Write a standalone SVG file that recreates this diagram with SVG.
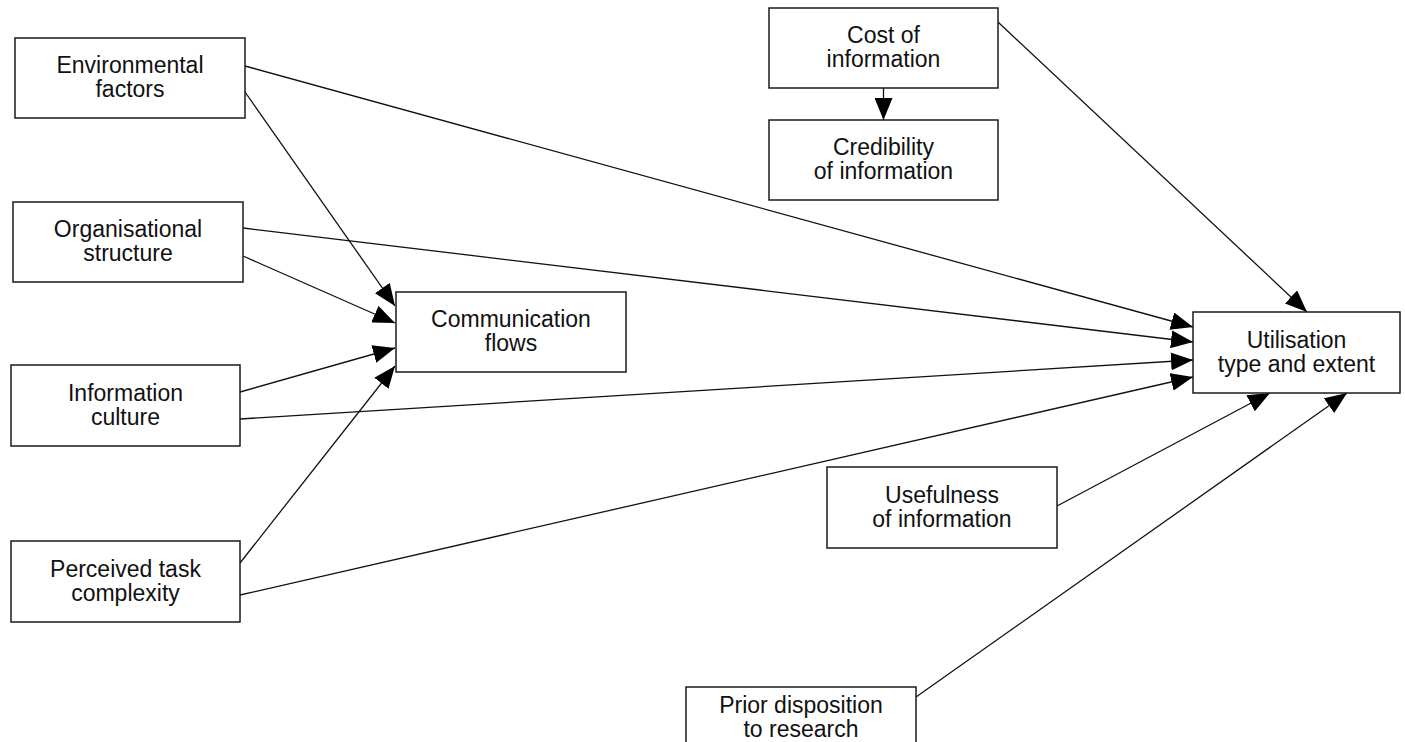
<svg xmlns="http://www.w3.org/2000/svg" width="1405" height="742" viewBox="0 0 1405 742">
  <style>
    .box { fill: #ffffff; stroke: #1a1a1a; stroke-width: 1.5; }
    .lbl { font-family: "Liberation Sans", Arial, sans-serif; font-size: 23px; fill: #111111; text-anchor: middle; }
    .edge { fill: none; stroke: #111111; stroke-width: 1.3; marker-end: url(#head); }
  </style>
  <defs>
    <marker id="head" viewBox="0 0 22 18" refX="22" refY="9" markerWidth="22" markerHeight="18" markerUnits="userSpaceOnUse" orient="auto">
      <path d="M0,0 L22,9 L0,18 Z" fill="#000000"/>
    </marker>
  </defs>
  <rect x="0" y="0" width="1405" height="742" fill="#ffffff"/>

  <!-- connectors -->
  <g id="connectors">
    <line class="edge" x1="245" y1="66" x2="1193" y2="327"/>
    <line class="edge" x1="245" y1="92" x2="395" y2="306"/>
    <line class="edge" x1="243" y1="228" x2="1193" y2="342"/>
    <line class="edge" x1="243" y1="256" x2="395" y2="323"/>
    <line class="edge" x1="240" y1="392" x2="395" y2="348"/>
    <line class="edge" x1="240" y1="419" x2="1193" y2="360"/>
    <line class="edge" x1="240" y1="563" x2="395" y2="366"/>
    <line class="edge" x1="240" y1="595" x2="1193" y2="377"/>
    <line class="edge" x1="998" y1="22" x2="1307" y2="312"/>
    <line class="edge" x1="883.5" y1="88" x2="883.5" y2="120"/>
    <line class="edge" x1="1057" y1="506" x2="1270" y2="393"/>
    <line class="edge" x1="916" y1="697" x2="1347" y2="393"/>
  </g>

  <g id="environmental-factors">
    <rect class="box" x="15" y="38" width="230" height="80"/>
    <text class="lbl" x="130" y="73">Environmental</text>
    <text class="lbl" x="130" y="97">factors</text>
  </g>
  <g id="organisational-structure">
    <rect class="box" x="13" y="202" width="230" height="80"/>
    <text class="lbl" x="128" y="237">Organisational</text>
    <text class="lbl" x="128" y="261">structure</text>
  </g>
  <g id="information-culture">
    <rect class="box" x="11" y="365" width="229" height="81"/>
    <text class="lbl" x="125.5" y="400.5">Information</text>
    <text class="lbl" x="125.5" y="424.5">culture</text>
  </g>
  <g id="perceived-task-complexity">
    <rect class="box" x="11" y="541" width="229" height="81"/>
    <text class="lbl" x="125.5" y="576.5">Perceived task</text>
    <text class="lbl" x="125.5" y="600.5">complexity</text>
  </g>
  <g id="communication-flows">
    <rect class="box" x="396" y="292" width="230" height="80"/>
    <text class="lbl" x="511" y="327">Communication</text>
    <text class="lbl" x="511" y="351">flows</text>
  </g>
  <g id="cost-of-information">
    <rect class="box" x="769" y="8" width="229" height="80"/>
    <text class="lbl" x="883.5" y="43">Cost of</text>
    <text class="lbl" x="883.5" y="67">information</text>
  </g>
  <g id="credibility-of-information">
    <rect class="box" x="769" y="120" width="229" height="80"/>
    <text class="lbl" x="883.5" y="155">Credibility</text>
    <text class="lbl" x="883.5" y="179">of information</text>
  </g>
  <g id="utilisation">
    <rect class="box" x="1193" y="312" width="207" height="81"/>
    <text class="lbl" x="1296.5" y="347.5">Utilisation</text>
    <text class="lbl" x="1296.5" y="371.5">type and extent</text>
  </g>
  <g id="usefulness-of-information">
    <rect class="box" x="827" y="467" width="230" height="81"/>
    <text class="lbl" x="942" y="502.5">Usefulness</text>
    <text class="lbl" x="942" y="526.5">of information</text>
  </g>
  <g id="prior-disposition">
    <rect class="box" x="686" y="687" width="230" height="80"/>
    <text class="lbl" x="801" y="713">Prior disposition</text>
    <text class="lbl" x="801" y="737">to research</text>
  </g>
</svg>
